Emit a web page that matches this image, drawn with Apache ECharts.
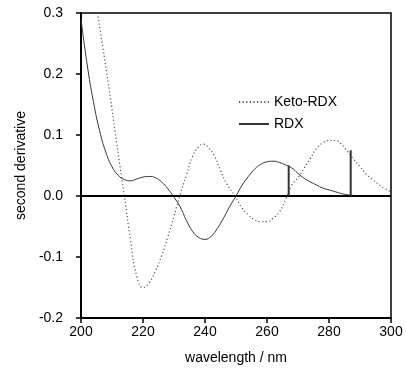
<!DOCTYPE html>
<html><head><meta charset="utf-8">
<script src="https://cdn.jsdelivr.net/npm/echarts@6/dist/echarts.min.js"></script>
<style>html,body{margin:0;padding:0;background:#fff}#c{width:406px;height:370px}</style>
</head><body><div id="c"></div>
<script>
var rdxX = [200,202,204,206,208,210,212,214,216,218,220,222,224,226,228,230,232,234,236,238,240,242,244,246,248,250,252,254,256,258,260,262,264,266,268,270,272,274,276,278,280,282,284,286,288];
var rdxY = [0.29,0.215,0.155,0.107,0.072,0.048,0.034,0.027,0.025,0.028,0.031,0.032,0.030,0.023,0.012,-0.002,-0.018,-0.040,-0.058,-0.068,-0.071,-0.066,-0.053,-0.036,-0.017,0.000,0.018,0.032,0.044,0.052,0.056,0.057,0.055,0.051,0.046,0.037,0.029,0.023,0.018,0.013,0.010,0.007,0.004,0.002,0.001];
var ketoX = [205.3,207,209.6,211,212.6,214,216,218,220,222,224,226,228,230,232,234,236,238,239.5,241,243,245,247,249.7,252,254,256,258,260,262,264,266,268,270,272,274,276,278,280,282,284,286,288,290,292,294,296,298,300];
var ketoY = [0.30,0.245,0.157,0.105,0.048,0.0,-0.073,-0.132,-0.150,-0.142,-0.123,-0.098,-0.067,-0.033,0.003,0.034,0.065,0.081,0.085,0.080,0.066,0.042,0.020,0.000,-0.020,-0.031,-0.039,-0.042,-0.042,-0.036,-0.026,-0.006,0.018,0.030,0.046,0.062,0.078,0.087,0.091,0.091,0.085,0.073,0.060,0.048,0.036,0.027,0.019,0.012,0.007];
var stickX = [267, 287];
var stickY = [0.050, 0.075];
var xTicks = [200,220,240,260,280,300];
var yTicks = [-0.2,-0.1,0.0,0.1,0.2,0.3];

function pairs(xs, ys){ return xs.map(function(x,i){ return [x, ys[i]]; }); }
var font = 'Liberation Sans, Arial, sans-serif';
var chart = echarts.init(document.getElementById('c'), null, {renderer:'canvas'});
chart.setOption({
  animation:false,
  grid:{left:81,right:15,top:13,bottom:52,show:true,borderColor:'#000',borderWidth:1.5},
  legend:{
    data:['Keto-RDX','RDX'], orient:'vertical', left:233, top:90, itemWidth:30, itemHeight:10, itemGap:8,
    itemStyle:{opacity:0},
    textStyle:{fontFamily:font,fontSize:14,color:'#000'}
  },
  xAxis:{
    type:'value', min:xTicks[0], max:xTicks[xTicks.length-1], interval:20,
    name:'wavelength / nm', nameLocation:'middle', nameGap:33,
    nameTextStyle:{fontFamily:font,fontSize:14,color:'#000'},
    axisLine:{show:true,onZero:false,lineStyle:{color:'#000',width:2}},
    axisTick:{show:true,inside:false,length:5,lineStyle:{color:'#000',width:1.5}},
    axisLabel:{fontFamily:font,fontSize:14,color:'#000',margin:7},
    splitLine:{show:false}
  },
  yAxis:{
    type:'value', min:yTicks[0], max:yTicks[yTicks.length-1], interval:0.1,
    name:'second derivative', nameLocation:'middle', nameGap:50,
    nameTextStyle:{fontFamily:font,fontSize:14,color:'#000'},
    axisLine:{show:true,onZero:false,lineStyle:{color:'#000',width:2}},
    axisTick:{show:true,inside:false,length:5,lineStyle:{color:'#000',width:1.5}},
    axisLabel:{fontFamily:font,fontSize:14,color:'#000',margin:18,formatter:function(v){return v.toFixed(1);}},
    splitLine:{show:false}
  },
  series:[
    {name:'Keto-RDX', type:'line', data:pairs(ketoX,ketoY), smooth:true, showSymbol:false, symbol:'none',
     lineStyle:{color:'#555',width:1.2,type:[1.2,2.4]}, itemStyle:{color:'#555'}, z:3},
    {name:'RDX', type:'line', data:pairs(rdxX,rdxY), smooth:true, showSymbol:false, symbol:'none',
     lineStyle:{color:'#333',width:1}, itemStyle:{color:'#333'}, z:4,
     markLine:{silent:true,symbol:'none',label:{show:false},lineStyle:{color:'#000',width:2,type:'solid'},data:[{yAxis:0}]}},
    {name:'sticks', type:'bar', data:pairs(stickX,stickY), barWidth:2, itemStyle:{color:'#333'}, z:5}
  ]
});
</script></body></html>
